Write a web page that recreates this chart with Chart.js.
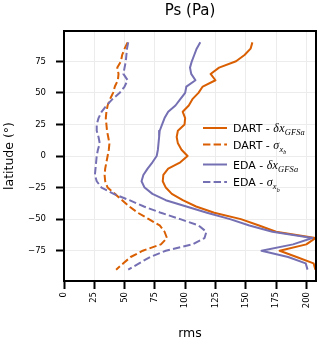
<!DOCTYPE html>
<html>
<head>
<meta charset="utf-8">
<script src="https://cdn.jsdelivr.net/npm/chart.js@4.4.1/dist/chart.umd.min.js"></script>
<style>
  html, body { margin: 0; padding: 0; background: #fff; }
  #c { display: block; }
</style>
</head>
<body>
<canvas id="c" width="320" height="342"></canvas>
<script>
// ---- data ----
const latitudes = [90, 85, 80, 75, 70, 65, 60, 55, 50, 45, 40, 35, 30, 25, 20, 15, 10, 5, 0,
  -5, -10, -15, -20, -25, -30, -35, -40, -45, -50, -55, -60, -65, -70, -75, -80, -85, -90];

const dartDelta = [155.5, 154, 149, 142, 128, 121, 125, 114.5, 111, 106, 103, 98, 100, 99.5, 94, 93, 94, 97, 102,
  96, 86, 82, 81.5, 84, 89, 98, 109, 124, 146, 161, 175, 207.5, 200, 178, 192, 206, 207.5];

const dartSigma = [52.5, 50, 48, 47, 44, 45, 44.5, 42, 40.5, 38, 36, 35, 34.5, 35, 35.5, 36.5, 37.5, 37, 36,
  35, 34, 33.5, 34, 36, 42, 48, 54, 61, 70, 79, 83, 85, 80, 65, 55, 49, 43];

const edaDelta = [112.5, 109.5, 107.5, 105.5, 104, 105, 108.5, 101, 100, 96, 92, 86, 83, 81, 79, 78.5, 78, 77.5, 76.5,
  73, 69, 65.5, 64, 66.5, 73, 84, 101, 118, 137, 153, 172, 205, 189, 163, 185, 199.5, 201];

const edaSigma = [53, 52, 51.5, 51, 50, 49, 52.5, 50, 46, 40, 35, 31, 28.5, 27, 27, 28.5, 29.5, 28, 27,
  26.5, 26, 25.5, 27, 31, 41, 54, 66, 80, 96, 111, 117.5, 116, 106, 84, 71, 62, 53];

const seriesLabels = ['DART - \u03b4x_{GFSa}', 'DART - \u03c3_{x_b}', 'EDA - \u03b4x_{GFSa}', 'EDA - \u03c3_{x_b}'];
const xTicks = [0, 25, 50, 75, 100, 125, 150, 175, 200];
const yTicks = [-75, -50, -25, 0, 25, 50, 75];
const titleText = 'Ps (Pa)';
const xTitle = 'rms';
const yTitle = 'latitude (\u00b0)';

// ---- helpers ----
const ORANGE = '#d95f02';
const PURPLE = '#7570b3';
const DASH = [7.4, 3.2];
const toPoints = (vals) => vals.map((v, i) => ({ x: v, y: latitudes[i] }));

function drawMath(ctx, s, x, baseline, size) {
  let i = 0;
  while (i < s.length) {
    const ch = s[i];
    if (ch === '_') {
      let sub;
      if (s[i + 1] === '{') {
        let depth = 0, j = i + 1;
        for (; j < s.length; j++) {
          if (s[j] === '{') depth++;
          else if (s[j] === '}') { depth--; if (depth === 0) break; }
        }
        sub = s.slice(i + 2, j);
        i = j + 1;
      } else {
        sub = s[i + 1];
        i += 2;
      }
      x = drawMath(ctx, sub, x, baseline + size * 0.28, size * 0.7);
      continue;
    }
    ctx.font = 'italic ' + size + 'px "Liberation Serif", "DejaVu Serif", serif';
    ctx.fillText(ch, x, baseline);
    x += ctx.measureText(ch).width + size * 0.02;
    i++;
  }
  return x;
}

const decorations = {
  id: 'decorations',
  afterDraw(chart) {
    const ctx = chart.ctx;
    const a = chart.chartArea;
    const rows = [128, 144.5, 164.5, 182];
    ctx.save();
    // title centred over the plot area
    ctx.fillStyle = '#000';
    ctx.textAlign = 'center';
    ctx.textBaseline = 'middle';
    ctx.font = '15px "DejaVu Sans"';
    ctx.fillText(titleText, (a.left + a.right) / 2, 11);
    // legend
    chart.data.datasets.forEach((ds, k) => {
      const y = rows[k];
      ctx.strokeStyle = ds.borderColor;
      ctx.lineWidth = 2;
      ctx.setLineDash(ds.borderDash || []);
      ctx.beginPath();
      ctx.moveTo(203, y);
      ctx.lineTo(227, y);
      ctx.stroke();
      ctx.setLineDash([]);
      const parts = ds.label.split(' - ');
      ctx.fillStyle = '#000';
      ctx.textBaseline = 'alphabetic';
      ctx.textAlign = 'left';
      ctx.font = '11px "DejaVu Sans"';
      const prefix = parts[0] + ' - ';
      ctx.fillText(prefix, 233, y + 4);
      const px = 233 + ctx.measureText(prefix).width;
      drawMath(ctx, parts[1], px, y + 4, 12);
    });
    // frame (spines)
    ctx.strokeStyle = '#000';
    ctx.lineWidth = 2;
    ctx.strokeRect(a.left, a.top, a.right - a.left, a.bottom - a.top);
    ctx.restore();
  }
};

const styles = [
  { color: ORANGE, dash: [] },
  { color: ORANGE, dash: DASH },
  { color: PURPLE, dash: [] },
  { color: PURPLE, dash: DASH }
];
const seriesValues = [dartDelta, dartSigma, edaDelta, edaSigma];

const datasets = seriesValues.map((vals, k) => ({
  label: seriesLabels[k],
  data: toPoints(vals),
  borderColor: styles[k].color,
  backgroundColor: styles[k].color,
  borderDash: styles[k].dash,
  borderWidth: 2,
  borderJoinStyle: 'round',
  pointRadius: 0,
  pointHoverRadius: 0,
  showLine: true,
  fill: false,
  tension: 0,
  order: 4 - k
}));

new Chart(document.getElementById('c'), {
  type: 'scatter',
  data: { datasets },
  plugins: [decorations],
  options: {
    responsive: false,
    animation: false,
    devicePixelRatio: 1,
    layout: { padding: { top: 31, right: 4, bottom: 0, left: 0 } },
    plugins: {
      legend: { display: false },
      tooltip: { enabled: false },
      title: { display: false }
    },
    scales: {
      x: {
        type: 'linear',
        min: 0,
        max: 208,
        afterBuildTicks: (s) => { s.ticks = xTicks.map(v => ({ value: v })); },
        afterFit: (s) => { s.height = 61; },
        grid: { color: '#ececec', lineWidth: 1, tickColor: '#000', tickWidth: 2, tickLength: 8, drawTicks: true },
        border: { display: true, color: '#000', width: 2 },
        ticks: {
          color: '#000',
          font: { family: 'DejaVu Sans', size: 8.5 },
          minRotation: 90,
          maxRotation: 90,
          padding: 3,
          autoSkip: false,
          callback: (v) => String(v)
        },
        title: {
          display: true,
          text: xTitle,
          color: '#000',
          font: { family: 'DejaVu Sans', size: 12.5 },
          padding: { top: 0, bottom: 1 }
        }
      },
      y: {
        type: 'linear',
        min: -99,
        max: 99,
        afterBuildTicks: (s) => { s.ticks = yTicks.map(v => ({ value: v })); },
        afterFit: (s) => { s.width = 64; },
        grid: { color: '#ececec', lineWidth: 1, tickColor: '#000', tickWidth: 2, tickLength: 8, drawTicks: true },
        border: { display: true, color: '#000', width: 2 },
        ticks: {
          color: '#000',
          font: { family: 'DejaVu Sans', size: 8.5 },
          padding: 10,
          autoSkip: false,
          callback: (v) => (v < 0 ? '\u2212' + Math.abs(v) : String(v))
        },
        title: {
          display: true,
          text: yTitle,
          color: '#000',
          font: { family: 'DejaVu Sans', size: 12.5 },
          padding: { top: 2, bottom: 0 }
        }
      }
    }
  }
});
</script>
</body>
</html>
